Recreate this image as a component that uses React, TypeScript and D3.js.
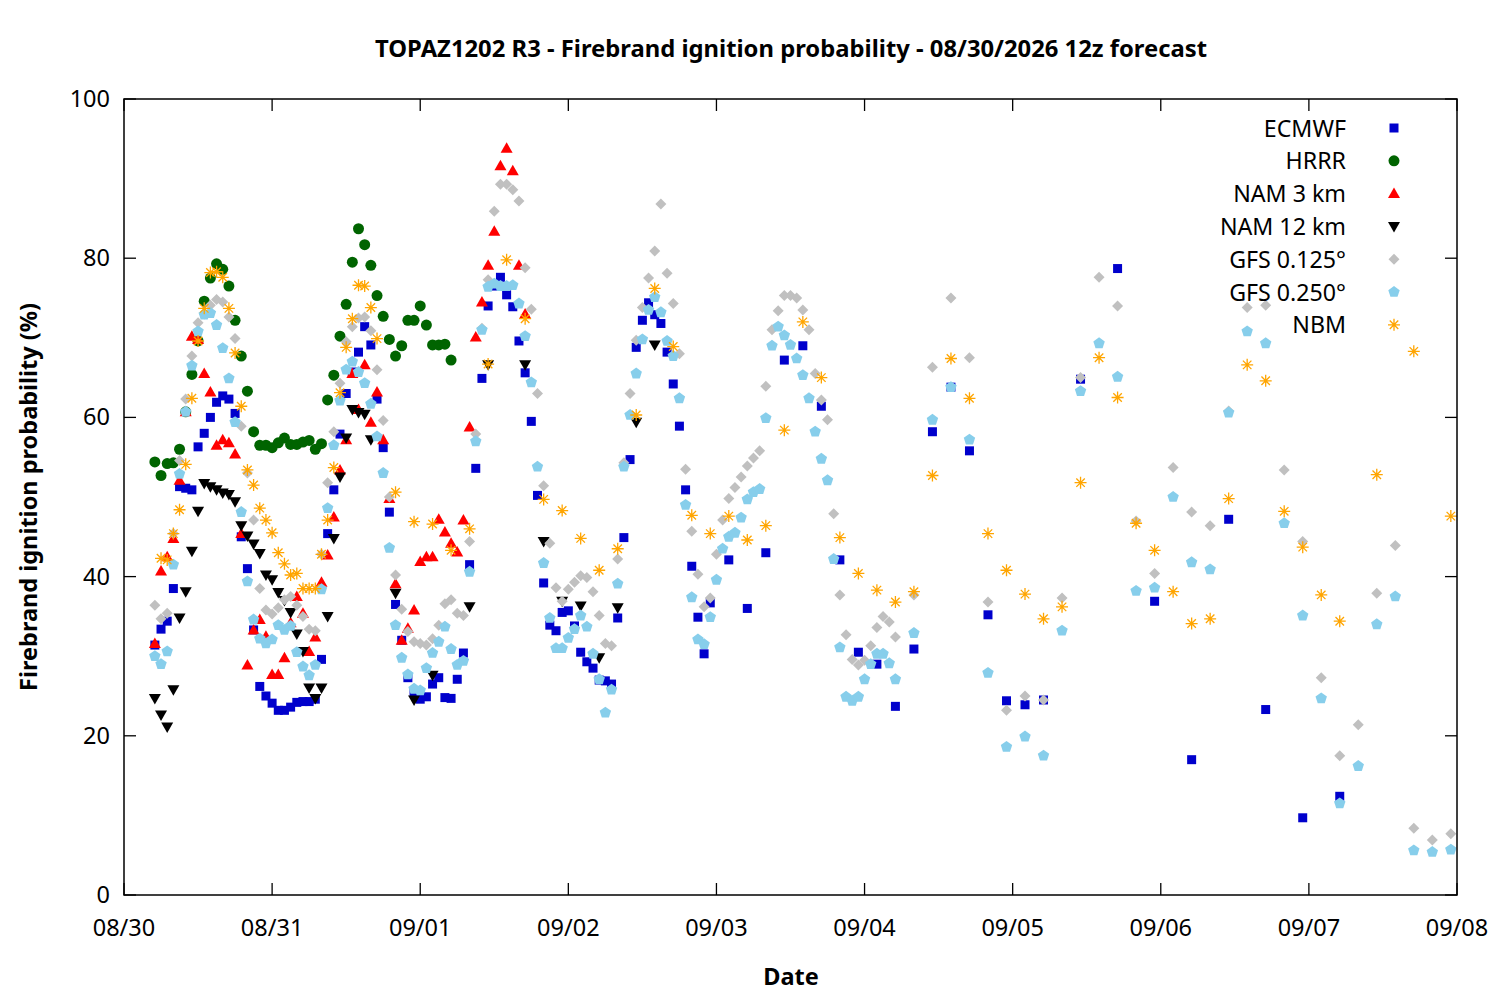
import * as d3 from "d3";

const WIDTH = 1500;
const HEIGHT = 1000;
const MARGIN = { top: 99, right: 43, bottom: 105, left: 124 };

// hours since 08/30 00:00 local, value (%)
const ECMWF: [number, number][] = [
  [5, 31.4], [6, 33.4], [7, 34.4], [8, 38.5], [9, 51.3], [10, 51.1], [11, 50.9], [12, 56.3],
  [13, 58.0], [14, 60.0], [15, 61.9], [16, 62.7], [17, 62.3], [18, 60.5], [19, 45.0], [20, 41.0],
  [21, 33.3], [22, 26.2], [23, 25.0], [24, 24.1], [25, 23.2], [26, 23.2], [27, 23.6], [28, 24.2],
  [29, 24.3], [30, 24.3], [31, 24.6], [32, 29.6], [33, 45.4], [34, 50.9], [35, 57.9], [36, 63.0],
  [37, 65.7], [38, 68.2], [39, 71.4], [40, 69.1], [41, 62.3], [42, 56.2], [43, 48.1], [44, 36.5],
  [45, 32.0], [46, 27.3], [47, 25.5], [48, 24.6], [49, 24.9], [50, 26.5], [51, 27.3], [52, 24.8],
  [53, 24.7], [54, 27.1], [55, 30.4], [56, 41.5], [57, 53.6], [58, 64.9], [59, 74.0], [60, 76.5],
  [61, 77.6], [62, 75.4], [63, 73.9], [64, 69.6], [65, 65.6], [66, 59.5], [67, 50.2], [68, 39.2],
  [69, 33.9], [70, 33.2], [71, 35.5], [72, 35.7], [73, 33.8], [74, 30.5], [75, 29.3], [76, 28.5],
  [77, 27.0], [78, 26.9], [79, 26.5], [80, 34.8], [81, 44.9], [82, 54.7], [83, 68.8], [84, 72.2],
  [85, 74.4], [86, 72.9], [87, 71.8], [88, 68.2], [89, 64.2], [90, 58.9], [91, 50.9], [92, 41.3],
  [93, 34.9], [94, 30.3], [95, 36.7], [98, 42.1], [101, 36.0], [104, 43.0], [107, 67.2], [110, 69.0],
  [113, 61.4], [116, 42.1], [119, 30.5], [122, 29.0], [125, 23.7], [128, 30.9], [131, 58.2], [134, 63.8],
  [137, 55.8], [140, 35.2], [143, 24.4], [146, 23.9], [149, 24.5], [155, 64.8], [161, 78.7], [167, 36.9],
  [173, 17.0], [179, 47.2], [185, 23.3], [191, 9.7], [197, 12.4],
];

const HRRR: [number, number][] = [
  [5, 54.4], [6, 52.7], [7, 54.2], [8, 54.3], [9, 56.0], [10, 60.7], [11, 65.4], [12, 69.6],
  [13, 74.6], [14, 77.5], [15, 79.3], [16, 78.6], [17, 76.5], [18, 72.2], [19, 67.7], [20, 63.3],
  [21, 58.2], [22, 56.5], [23, 56.5], [24, 56.2], [25, 56.8], [26, 57.4], [27, 56.6], [28, 56.6],
  [29, 56.9], [30, 57.1], [31, 56.0], [32, 56.7], [33, 62.2], [34, 65.3], [35, 70.2], [36, 74.2],
  [37, 79.5], [38, 83.7], [39, 81.7], [40, 79.1], [41, 75.3], [42, 72.7], [43, 69.8], [44, 67.7],
  [45, 69.0], [46, 72.2], [47, 72.2], [48, 74.0], [49, 71.6], [50, 69.1], [51, 69.1], [52, 69.2],
  [53, 67.2],
];

const NAM3: [number, number][] = [
  [5, 31.6], [6, 40.7], [7, 42.5], [8, 44.8], [9, 52.1], [10, 60.7], [11, 70.2], [12, 69.8],
  [13, 65.5], [14, 63.2], [15, 56.5], [16, 57.2], [17, 56.8], [18, 55.4], [19, 45.4], [20, 28.9],
  [21, 33.3], [22, 34.6], [23, 32.5], [24, 27.7], [25, 27.7], [26, 29.8], [27, 34.2], [28, 37.5],
  [29, 35.4], [30, 30.6], [31, 32.4], [32, 39.3], [33, 42.7], [34, 47.5], [35, 53.4], [36, 57.2],
  [37, 65.5], [38, 61.0], [39, 66.6], [40, 59.4], [41, 63.2], [42, 57.2], [43, 49.8], [44, 39.1],
  [45, 32.0], [46, 33.5], [47, 35.8], [48, 41.9], [49, 42.5], [50, 42.5], [51, 47.2], [52, 45.6],
  [53, 44.2], [54, 43.1], [55, 47.1], [56, 58.8], [57, 70.1], [58, 74.5], [59, 79.1], [60, 83.4],
  [61, 91.6], [62, 93.8], [63, 91.0], [64, 79.1], [65, 73.0],
];

const NAM12: [number, number][] = [
  [5, 24.7], [6, 22.6], [7, 21.1], [8, 25.8], [9, 34.8], [10, 38.1], [11, 43.2], [12, 48.2],
  [13, 51.7], [14, 51.3], [15, 50.9], [16, 50.5], [17, 50.3], [18, 49.4], [19, 46.4], [20, 45.1],
  [21, 44.1], [22, 42.9], [23, 40.2], [24, 39.6], [25, 38.0], [26, 37.0], [27, 35.5], [28, 32.8],
  [29, 30.6], [30, 26.0], [31, 24.7], [32, 26.0], [33, 35.0], [34, 44.8], [35, 52.5], [36, 57.4],
  [37, 61.0], [38, 60.6], [39, 60.4], [40, 57.2], [44, 37.9], [47, 24.5], [50, 27.6], [56, 36.2],
  [59, 66.6], [65, 66.6], [68, 44.4], [71, 36.9], [74, 36.3], [77, 29.8], [80, 36.1], [83, 59.4],
  [86, 69.1],
];

const GFS0125: [number, number][] = [
  [5, 36.4], [6, 34.7], [7, 35.4], [8, 45.4], [9, 54.6], [10, 62.3], [11, 67.7], [12, 71.9],
  [13, 73.0], [14, 74.1], [15, 74.8], [16, 74.5], [17, 72.6], [18, 69.9], [19, 58.9], [20, 53.0],
  [21, 47.1], [22, 38.5], [23, 35.8], [24, 35.3], [25, 36.1], [26, 37.1], [27, 37.5], [28, 36.4],
  [29, 35.0], [30, 33.4], [31, 33.2], [32, 42.8], [33, 51.8], [34, 58.2], [35, 64.3], [36, 69.5],
  [37, 71.4], [38, 72.5], [39, 72.6], [40, 70.9], [41, 66.0], [42, 59.6], [43, 50.0], [44, 40.2],
  [45, 35.9], [46, 33.1], [47, 31.8], [48, 31.6], [49, 31.4], [50, 32.2], [51, 33.9], [52, 36.6],
  [53, 37.1], [54, 35.4], [55, 35.1], [56, 44.4], [57, 57.9], [58, 71.2], [59, 77.3], [60, 85.9],
  [61, 89.3], [62, 89.3], [63, 88.6], [64, 87.2], [65, 78.8], [66, 73.6], [67, 63.0], [68, 51.4],
  [69, 44.2], [70, 38.6], [71, 36.9], [72, 38.4], [73, 39.3], [74, 40.1], [75, 39.9], [76, 38.1],
  [77, 35.1], [78, 31.6], [79, 31.3], [80, 42.2], [81, 54.3], [82, 63.0], [83, 69.7], [84, 73.8],
  [85, 77.5], [86, 80.9], [87, 86.8], [88, 78.1], [89, 74.3], [90, 68.0], [91, 53.5], [92, 45.7],
  [93, 40.3], [94, 36.2], [95, 37.3], [96, 42.8], [97, 47.1], [98, 49.8], [99, 51.2], [100, 52.5],
  [101, 53.9], [102, 54.9], [103, 55.8], [104, 63.9], [105, 71.0], [106, 73.4], [107, 75.3], [108, 75.3],
  [109, 75.0], [110, 73.5], [111, 71.0], [112, 65.5], [113, 62.2], [114, 59.7], [115, 47.9], [116, 37.7],
  [117, 32.7], [118, 29.6], [119, 28.9], [120, 29.5], [121, 31.3], [122, 33.6], [123, 35.0], [124, 34.3],
  [125, 32.4], [128, 37.7], [131, 66.3], [134, 75.0], [137, 67.5], [140, 36.8], [143, 23.2], [146, 25.0],
  [149, 24.5], [152, 37.3], [155, 65.0], [158, 77.6], [161, 74.0], [164, 47.0], [167, 40.4], [170, 53.7],
  [173, 48.1], [176, 46.4], [179, 60.8], [182, 73.8], [185, 74.1], [188, 53.4], [191, 44.4], [194, 27.3],
  [197, 17.5], [200, 21.4], [203, 37.9], [206, 43.9], [209, 8.4], [212, 6.9], [215, 7.7],
];

const GFS0250: [number, number][] = [
  [5, 30.0], [6, 29.0], [7, 30.6], [8, 41.5], [9, 52.9], [10, 60.7], [11, 66.5], [12, 70.8],
  [13, 72.9], [14, 73.1], [15, 71.6], [16, 68.7], [17, 64.9], [18, 59.4], [19, 48.1], [20, 39.4],
  [21, 34.6], [22, 32.2], [23, 31.6], [24, 32.1], [25, 33.9], [26, 33.3], [27, 33.8], [28, 30.5],
  [29, 28.7], [30, 27.6], [31, 28.9], [32, 38.4], [33, 48.6], [34, 56.5], [35, 62.1], [36, 66.0],
  [37, 67.0], [38, 65.7], [39, 64.3], [40, 61.7], [41, 57.6], [42, 53.0], [43, 43.6], [44, 33.9],
  [45, 29.8], [46, 27.7], [47, 25.9], [48, 25.7], [49, 28.5], [50, 30.4], [51, 31.8], [52, 33.7],
  [53, 30.9], [54, 28.9], [55, 29.4], [56, 40.6], [57, 57.0], [58, 71.0], [59, 76.4], [60, 76.8],
  [61, 76.5], [62, 76.5], [63, 76.6], [64, 74.3], [65, 70.2], [66, 64.4], [67, 53.8], [68, 41.7],
  [69, 34.8], [70, 31.0], [71, 31.0], [72, 32.3], [73, 33.4], [74, 35.1], [75, 33.7], [76, 30.3],
  [77, 27.1], [78, 22.9], [79, 25.8], [80, 39.1], [81, 53.8], [82, 60.3], [83, 65.5], [84, 69.8],
  [85, 73.5], [86, 75.1], [87, 73.2], [88, 69.6], [89, 67.7], [90, 62.4], [91, 49.0], [92, 37.4],
  [93, 32.1], [94, 31.5], [95, 34.9], [96, 39.6], [97, 43.5], [98, 45.0], [99, 45.5], [100, 47.4],
  [101, 49.7], [102, 50.6], [103, 51.0], [104, 59.9], [105, 69.0], [106, 71.4], [107, 70.3], [108, 69.1],
  [109, 67.4], [110, 65.3], [111, 62.4], [112, 58.2], [113, 54.8], [114, 52.1], [115, 42.2], [116, 31.1],
  [117, 24.9], [118, 24.4], [119, 24.9], [120, 27.1], [121, 29.0], [122, 30.3], [123, 30.3], [124, 29.1],
  [125, 27.1], [128, 32.9], [131, 59.7], [134, 63.8], [137, 57.2], [140, 27.9], [143, 18.6], [146, 19.9],
  [149, 17.5], [152, 33.2], [155, 63.3], [158, 69.3], [161, 65.1], [164, 38.2], [167, 38.6], [170, 50.0],
  [173, 41.8], [176, 40.9], [179, 60.6], [182, 70.8], [185, 69.3], [188, 46.7], [191, 35.1], [194, 24.7],
  [197, 11.5], [200, 16.2], [203, 34.0], [206, 37.5], [209, 5.6], [212, 5.4], [215, 5.7],
];

const NBM: [number, number][] = [
  [6, 42.3], [7, 42.1], [8, 45.4], [9, 48.4], [10, 54.1], [11, 62.4], [12, 69.6], [13, 73.7],
  [14, 78.2], [15, 78.3], [16, 77.6], [17, 73.7], [18, 68.1], [19, 61.4], [20, 53.4], [21, 51.5],
  [22, 48.6], [23, 47.1], [24, 45.5], [25, 43.0], [26, 41.6], [27, 40.2], [28, 40.4], [29, 38.5],
  [30, 38.5], [31, 38.5], [32, 42.8], [33, 47.1], [34, 53.7], [35, 63.1], [36, 68.8], [37, 72.4],
  [38, 76.6], [39, 76.5], [40, 73.8], [41, 69.9], [44, 50.6], [47, 46.9], [50, 46.6], [53, 43.3],
  [56, 46.0], [59, 66.7], [62, 79.8], [65, 72.4], [68, 49.7], [71, 48.3], [74, 44.8], [77, 40.8],
  [80, 43.5], [83, 60.3], [86, 76.2], [89, 68.9], [92, 47.7], [95, 45.4], [98, 47.6], [101, 44.6],
  [104, 46.4], [107, 58.4], [110, 72.0], [113, 65.0], [116, 44.9], [119, 40.4], [122, 38.3], [125, 36.8],
  [128, 38.1], [131, 52.7], [134, 67.4], [137, 62.4], [140, 45.4], [143, 40.8], [146, 37.8], [149, 34.7],
  [152, 36.2], [155, 51.8], [158, 67.5], [161, 62.5], [164, 46.7], [167, 43.3], [170, 38.1], [173, 34.1],
  [176, 34.7], [179, 49.8], [182, 66.6], [185, 64.6], [188, 48.2], [191, 43.7], [194, 37.7], [197, 34.4],
  [203, 52.8], [209, 68.3], [215, 47.6],
];

const Y_TICKS = [0, 20, 40, 60, 80, 100];
const FONT = "'Noto Sans', 'Open Sans', sans-serif";

type Shape = "square" | "circle" | "triUp" | "triDown" | "diamond" | "pentagon" | "star";

const SERIES: { name: string; data: [number, number][]; color: string; shape: Shape }[] = [
  { name: "ECMWF", data: ECMWF, color: "#0000cc", shape: "square" },
  { name: "HRRR", data: HRRR, color: "#006400", shape: "circle" },
  { name: "NAM 3 km", data: NAM3, color: "#ff0000", shape: "triUp" },
  { name: "NAM 12 km", data: NAM12, color: "#000000", shape: "triDown" },
  { name: "GFS 0.125°", data: GFS0125, color: "#c0c0c0", shape: "diamond" },
  { name: "GFS 0.250°", data: GFS0250, color: "#87ceeb", shape: "pentagon" },
  { name: "NBM", data: NBM, color: "#ffa500", shape: "star" },
];

// marker path centred on 0,0
const markerPath = (shape: Shape) => {
  switch (shape) {
    case "square":
      return "M-4.5,-4.5H4.5V4.5H-4.5Z";
    case "circle":
      return "M5.5,0A5.5,5.5 0 1,1 -5.5,0A5.5,5.5 0 1,1 5.5,0Z";
    case "triUp":
      return "M0,-6L6,4.5L-6,4.5Z";
    case "triDown":
      return "M0,6L6,-4.5L-6,-4.5Z";
    case "diamond":
      return "M0,-5.5L5.5,0L0,5.5L-5.5,0Z";
    case "pentagon": {
      const pts = d3.range(5).map((i) => {
        const a = -Math.PI / 2 + (i * 2 * Math.PI) / 5;
        return [6 * Math.cos(a), 6 * Math.sin(a)];
      });
      return "M" + pts.map((p) => p.join(",")).join("L") + "Z";
    }
    case "star": {
      const r = 6;
      const d = r * Math.SQRT1_2;
      return `M${-r},0H${r}M0,${-r}V${r}M${-d},${-d}L${d},${d}M${-d},${d}L${d},${-d}`;
    }
  }
};

const Marker = ({ shape, color, x, y }: { shape: Shape; color: string; x: number; y: number }) => {
  const d = markerPath(shape);
  if (shape === "star") {
    return <path d={d} transform={`translate(${x},${y})`} fill="none" stroke={color} strokeWidth={1.3} />;
  }
  return <path d={d} transform={`translate(${x},${y})`} fill={color} />;
};

export default function App() {
  const boundsWidth = WIDTH - MARGIN.left - MARGIN.right;
  const boundsHeight = HEIGHT - MARGIN.top - MARGIN.bottom;
  const x0 = MARGIN.left;
  const y0 = MARGIN.top;

  const start = new Date(2026, 7, 30);
  const end = new Date(2026, 8, 8);
  const xScale = d3.scaleTime().domain([start, end]).range([x0, x0 + boundsWidth]);
  const yScale = d3.scaleLinear().domain([0, 100]).range([y0 + boundsHeight, y0]);
  const toDate = (h: number) => d3.timeHour.offset(start, h);

  const xTicks = d3.timeDay.range(start, d3.timeDay.offset(end, 1));
  const fmt = d3.timeFormat("%m/%d");
  const tickLen = 12;

  return (
    <div style={{ position: "absolute", left: 0, top: 0 }}>
      <svg width={WIDTH} height={HEIGHT} style={{ display: "block", background: "#fff" }} fontFamily={FONT}>
        <text x={791} y={57} textAnchor="middle" fontSize={23.8} fontWeight="bold">
          TOPAZ1202 R3 - Firebrand ignition probability - 08/30/2026 12z forecast
        </text>

        {/* ticks */}
        {Y_TICKS.map((t) => (
          <g key={"y" + t}>
            <line x1={x0} x2={x0 + tickLen} y1={yScale(t)} y2={yScale(t)} stroke="#000" strokeWidth={1.3} />
            <line x1={x0 + boundsWidth - tickLen} x2={x0 + boundsWidth} y1={yScale(t)} y2={yScale(t)} stroke="#000" strokeWidth={1.3} />
            <text x={x0 - 14} y={yScale(t) + 8} textAnchor="end" fontSize={23.5}>
              {t}
            </text>
          </g>
        ))}
        {xTicks.map((t) => (
          <g key={"x" + t.getTime()}>
            <line x1={xScale(t)} x2={xScale(t)} y1={y0 + boundsHeight} y2={y0 + boundsHeight - tickLen} stroke="#000" strokeWidth={1.3} />
            <line x1={xScale(t)} x2={xScale(t)} y1={y0} y2={y0 + tickLen} stroke="#000" strokeWidth={1.3} />
            <text x={xScale(t)} y={y0 + boundsHeight + 41} textAnchor="middle" fontSize={23.5}>
              {fmt(t)}
            </text>
          </g>
        ))}

        {/* points, later series on top */}
        {SERIES.map((s) => (
          <g key={s.name}>
            {s.data.map(([h, v]) => (
              <Marker key={h} shape={s.shape} color={s.color} x={xScale(toDate(h))} y={yScale(v)} />
            ))}
          </g>
        ))}

        <rect x={x0} y={y0} width={boundsWidth} height={boundsHeight} fill="none" stroke="#000" strokeWidth={1.5} />

        {/* legend */}
        {SERIES.map((s, i) => (
          <g key={"lg" + s.name}>
            <text x={1346} y={136.5 + i * 32.8} textAnchor="end" fontSize={23.2}>
              {s.name}
            </text>
            <Marker shape={s.shape} color={s.color} x={1394} y={128 + i * 32.8} />
          </g>
        ))}

        <text x={791} y={985} textAnchor="middle" fontSize={23.5} fontWeight="bold">
          Date
        </text>
        <text
          transform={`translate(37,${y0 + boundsHeight / 2}) rotate(-90)`}
          textAnchor="middle"
          fontSize={23.5}
          fontWeight="bold"
        >
          Firebrand ignition probability (%)
        </text>
      </svg>
    </div>
  );
}
